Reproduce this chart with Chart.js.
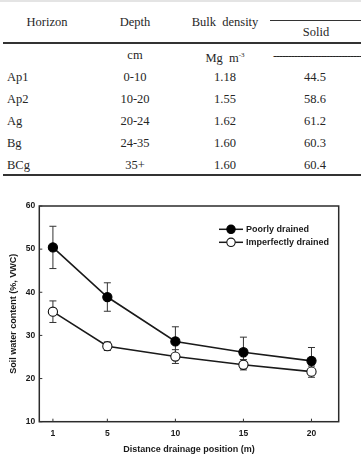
<!DOCTYPE html>
<html>
<head>
<meta charset="utf-8">
<script src="https://cdn.jsdelivr.net/npm/chart.js@4.4.0/dist/chart.umd.min.js"></script>
<style>
  html, body { margin:0; padding:0; background:#fff; }
  body { width:361px; height:458px; position:relative; overflow:hidden; }
  #topband { position:absolute; left:0; top:0; width:361px; height:1.5px; background:#e4e4e4; }
  .t { position:absolute; font-family:"Liberation Serif", "Times New Roman", serif; font-size:12.5px; color:#262626; line-height:14px; height:14px; white-space:nowrap; }
  .c { transform:translateX(-50%); text-align:center; }
  .hl { position:absolute; background:#333; }
  #wrap { position:absolute; left:0; top:195px; width:361px; height:263px; }
</style>
</head>
<body>
<div id="topband"></div>
<div id="table"></div>
<div id="wrap"><canvas id="chart" width="361" height="263"></canvas></div>
<script>
// ---- Table data ----
const horizons = ['Ap1', 'Ap2', 'Ag', 'Bg', 'BCg'];
const depths = ['0-10', '10-20', '20-24', '24-35', '35+'];
const bulkDensity = ['1.18', '1.55', '1.62', '1.60', '1.60'];
const solid = ['44.5', '58.6', '61.2', '60.3', '60.4'];

// ---- Chart data ----
const distances = [1, 5, 10, 15, 20];
const xTickLabels = ['1', '5', '10', '15', '20'];
const poorly = [50.4, 38.9, 28.6, 26.1, 24.1];
const poorlyErr = [4.9, 3.3, 3.4, 3.5, 3.1];
const imperfect = [35.5, 27.5, 25.1, 23.2, 21.6];
const imperfectErr = [2.5, 1.0, 1.6, 1.2, 1.3];
const seriesNames = ['Poorly drained', 'Imperfectly drained'];

// ---- Build table ----
(function(){
  const T = document.getElementById('table');
  function txt(s, x, y, center, html){
    const d = document.createElement('div');
    d.className = 't' + (center ? ' c' : '');
    d.style.left = x + 'px';
    d.style.top = (y - 7) + 'px';
    if (html) d.innerHTML = s; else d.textContent = s;
    T.appendChild(d);
  }
  function line(x, y, w, h){
    const d = document.createElement('div');
    d.className = 'hl';
    d.style.left = x + 'px'; d.style.top = y + 'px';
    d.style.width = w + 'px'; d.style.height = h + 'px';
    T.appendChild(d);
  }
  const colX = [47, 135, 225, 315];
  txt('Horizon', colX[0], 21.5, true);
  txt('Depth', colX[1], 21.5, true);
  txt('Bulk&nbsp;&nbsp;density', colX[2], 21.5, true, true);
  txt('Solid', 316, 32, true);
  line(270, 19.5, 91, 1);
  line(3, 42, 358, 2);
  txt('cm', colX[1], 55, true);
  txt('Mg&nbsp;&nbsp;m<sup style="font-size:7px;vertical-align:5px;">-3</sup>', colX[2], 55, true, true);
  const dash = document.createElement('div');
  dash.className = 't';
  dash.style.left = '273px'; dash.style.top = '48.5px';
  dash.style.letterSpacing = '-1.2px';
  dash.textContent = '------------------------------';
  T.appendChild(dash);
  horizons.forEach((h, i) => {
    const y = 77 + i * 21.9;
    txt(h, 7, y, false);
    txt(depths[i], colX[1], y, true);
    txt(bulkDensity[i], colX[2], y, true);
    txt(solid[i], colX[3], y, true);
  });
  line(3, 173.5, 358, 2);
})();

// ---- Chart ----
const ink = '#1a1a1a';
const customPlugin = {
  id: 'custom',
  beforeDatasetsDraw(chart) {
    const {ctx, chartArea: a, scales: {x, y}} = chart;
    ctx.save();
    ctx.strokeStyle = '#2b2b2b';
    ctx.lineWidth = 1.5;
    ctx.strokeRect(a.left, a.top, a.right - a.left, a.bottom - a.top);
    ctx.lineWidth = 1;
    ctx.strokeStyle = '#333';
    x.ticks.forEach(t => {
      const px = x.getPixelForValue(t.value);
      ctx.beginPath(); ctx.moveTo(px, a.bottom); ctx.lineTo(px, a.bottom - 3); ctx.stroke();
    });
    y.ticks.forEach(t => {
      const py = y.getPixelForValue(t.value);
      ctx.beginPath(); ctx.moveTo(a.left, py); ctx.lineTo(a.left + 3, py); ctx.stroke();
    });
    ctx.strokeStyle = '#333';
    ctx.lineWidth = 1;
    chart.data.datasets.forEach(ds => {
      ds.data.forEach((p, i) => {
        const e = ds.errors[i];
        const px = x.getPixelForValue(p.x);
        const t = y.getPixelForValue(p.y + e);
        const b = y.getPixelForValue(p.y - e);
        ctx.beginPath();
        ctx.moveTo(px, t); ctx.lineTo(px, b);
        ctx.moveTo(px - 3.5, t); ctx.lineTo(px + 3.5, t);
        ctx.moveTo(px - 3.5, b); ctx.lineTo(px + 3.5, b);
        ctx.stroke();
      });
    });
    ctx.restore();
  },
  afterDraw(chart) {
    const {ctx, chartArea: a} = chart;
    ctx.save();
    chart.data.datasets.forEach((ds, i) => {
      const yy = a.top + 23.3 + i * 13;
      const x0 = a.right - 119.7, x1 = a.right - 95.7, cx = (x0 + x1) / 2;
      ctx.strokeStyle = ds.borderColor;
      ctx.lineWidth = 1.5;
      ctx.beginPath(); ctx.moveTo(x0, yy); ctx.lineTo(x1, yy); ctx.stroke();
      ctx.beginPath(); ctx.arc(cx, yy, 4.2, 0, Math.PI * 2);
      ctx.fillStyle = ds.pointBackgroundColor; ctx.fill();
      ctx.lineWidth = 1.1; ctx.strokeStyle = ds.pointBorderColor; ctx.stroke();
      ctx.fillStyle = ink;
      ctx.font = 'bold 9px "Liberation Sans", Arial, sans-serif';
      ctx.textBaseline = 'middle';
      ctx.textAlign = 'left';
      ctx.fillText(ds.label, a.right - 92.7, yy);
    });
    ctx.restore();
  }
};

const mk = (vals) => distances.map((d, i) => ({x: d, y: vals[i]}));

new Chart(document.getElementById('chart'), {
  type: 'line',
  data: {
    datasets: [
      {
        label: seriesNames[0], data: mk(poorly), errors: poorlyErr,
        borderColor: ink, borderWidth: 1.6, tension: 0,
        pointRadius: 4.6, pointBackgroundColor: '#000', pointBorderColor: '#000', pointBorderWidth: 1.1
      },
      {
        label: seriesNames[1], data: mk(imperfect), errors: imperfectErr,
        borderColor: ink, borderWidth: 1.6, tension: 0,
        pointRadius: 4.6, pointBackgroundColor: '#fff', pointBorderColor: '#111', pointBorderWidth: 1.1
      }
    ]
  },
  options: {
    responsive: false,
    devicePixelRatio: 1,
    animation: false,
    layout: { padding: { left: 0, right: 22.3, top: 11, bottom: 0 } },
    plugins: { legend: { display: false }, tooltip: { enabled: false } },
    scales: {
      x: {
        type: 'linear', min: 0, max: 22,
        afterBuildTicks: s => { s.ticks = distances.map(v => ({value: v})); },
        afterFit: s => { s.height = 36.3; },
        grid: { display: false, drawTicks: false },
        border: { display: false },
        ticks: {
          padding: 6.5, color: ink,
          font: { family: '"Liberation Sans", Arial, sans-serif', size: 8.5, weight: 'bold' },
          callback: (v) => xTickLabels[distances.indexOf(v)] ?? ''
        },
        title: {
          display: true, text: 'Distance drainage position (m)', color: ink,
          font: { family: '"Liberation Sans", Arial, sans-serif', size: 9, weight: 'bold' },
          padding: { top: 0, bottom: 3.3 }
        }
      },
      y: {
        min: 10, max: 60,
        afterFit: s => { s.width = 39.3; },
        grid: { display: false, drawTicks: false },
        border: { display: false },
        ticks: {
          stepSize: 10, padding: 4, color: ink,
          font: { family: '"Liberation Sans", Arial, sans-serif', size: 8.5, weight: 'bold' }
        },
        title: {
          display: true, text: 'Soil water content (%, VWC)', color: ink,
          font: { family: '"Liberation Sans", Arial, sans-serif', size: 9, weight: 'bold' },
          padding: { top: 8.6, bottom: 0 }
        }
      }
    }
  },
  plugins: [customPlugin]
});
</script>
</body>
</html>
